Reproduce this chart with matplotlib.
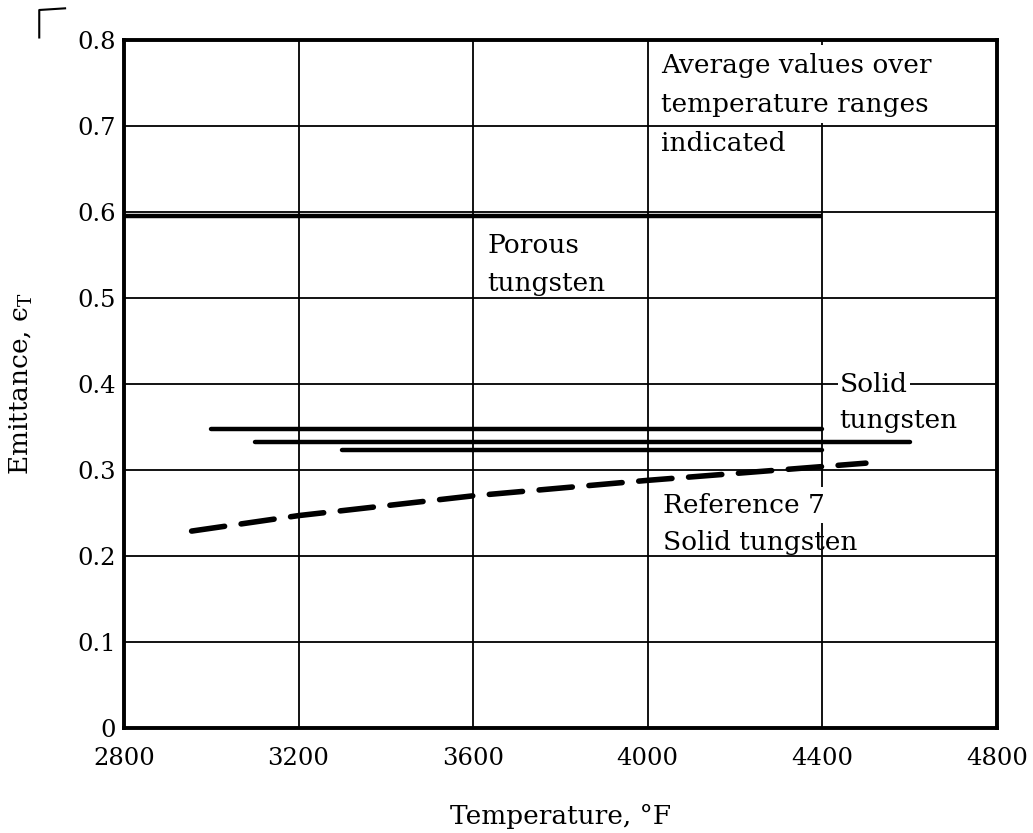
import numpy as np
import matplotlib
matplotlib.use("Agg")
import matplotlib.pyplot as plt
from matplotlib.lines import Line2D

plt.rcParams['font.family'] = ['DejaVu Serif']
plt.rcParams['mathtext.fontset'] = 'dejavuserif'

# average emittance over temperature ranges (deg F)
porous_range = [2800, 4400]
porous_value = 0.595

solid_ranges = [[3000, 4400], [3100, 4600], [3300, 4400]]
solid_values = [0.348, 0.333, 0.323]

# Reference 7, solid tungsten (dashed curve)
ref7_temp = [2955, 3200, 3600, 4000, 4500]
ref7_emit = [0.229, 0.247, 0.270, 0.288, 0.308]

xticks = [2800, 3200, 3600, 4000, 4400, 4800]
yticks = [0, 0.1, 0.2, 0.3, 0.4, 0.5, 0.6, 0.7, 0.8]
ytick_labels = ['0', '0.1', '0.2', '0.3', '0.4', '0.5', '0.6', '0.7', '0.8']

fig = plt.figure(figsize=(10.33, 8.33), dpi=100)
ax = fig.add_axes([0.120, 0.126, 0.845, 0.826])

ax.set_xlim(2800, 4800)
ax.set_ylim(0, 0.8)
ax.set_xticks(xticks)
ax.set_yticks(yticks)
ax.set_yticklabels(ytick_labels)
ax.tick_params(length=0, labelsize=17.5)
ax.tick_params(axis='x', pad=14)
ax.tick_params(axis='y', pad=6)
ax.grid(True, color='black', linewidth=1.3)
ax.set_axisbelow(True)
for s in ax.spines.values():
    s.set_linewidth(2.8)

# porous tungsten
ax.plot(porous_range, [porous_value] * 2, color='black', lw=3.2, solid_capstyle='butt')

# solid tungsten
for rng, v in zip(solid_ranges, solid_values):
    ax.plot(rng, [v, v], color='black', lw=3.2, solid_capstyle='round')

# reference 7
ax.plot(ref7_temp, ref7_emit, color='black', lw=4, linestyle=(0, (6, 3)),
        dash_capstyle='round')

box = dict(facecolor='white', edgecolor='none', pad=4)
fs = 19
ax.text(4030, 0.770, 'Average values over', fontsize=fs, va='center',
        bbox=dict(facecolor='white', edgecolor='none', pad=6))
ax.text(4030, 0.7245, 'temperature ranges', fontsize=fs, va='center', bbox=box)
ax.text(4030, 0.680, 'indicated', fontsize=fs, va='center',
        bbox=dict(facecolor='white', edgecolor='none', pad=0.5))

ax.text(3632, 0.5616, 'Porous', fontsize=fs, va='center')
ax.text(3632, 0.5174, 'tungsten', fontsize=fs, va='center')

ax.text(4440, 0.400, 'Solid', fontsize=fs, va='center',
        bbox=dict(facecolor='white', edgecolor='none', pad=1.5))
ax.text(4440, 0.357, 'tungsten', fontsize=fs, va='center',
        bbox=dict(facecolor='white', edgecolor='none', pad=0.5))

ax.text(4036, 0.2593, 'Reference 7', fontsize=fs, va='center', bbox=box)
ax.text(4036, 0.2163, 'Solid tungsten', fontsize=fs, va='center')

ax.set_xlabel('Temperature, °F', fontsize=19, labelpad=24)
ax.set_ylabel(r'Emittance, ϵ$_{\mathregular{T}}$', fontsize=19, labelpad=30)

# scan corner mark
fig.add_artist(Line2D([0.038, 0.038, 0.063], [0.955, 0.988, 0.990],
                      color='black', lw=1.5))

fig.savefig('out.png', dpi=100)
